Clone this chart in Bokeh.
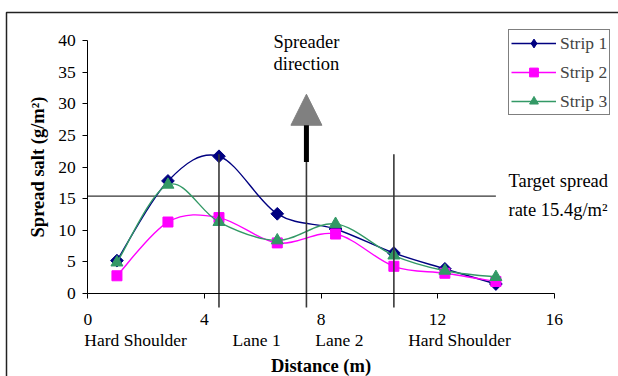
import numpy as np
from bokeh.plotting import figure
from bokeh.models import (Range1d, LinearAxis, FixedTicker, Legend, LegendItem,
                          ColumnDataSource, Arrow, NormalHead, Grid)
from bokeh.core.properties import value
from bokeh.embed import file_html
from bokeh.resources import INLINE

# ---------------- data ----------------
distance = [1.0, 2.75, 4.5, 6.5, 8.5, 10.5, 12.25, 14.0]
strip1 = [5.2, 17.8, 21.7, 12.6, 10.2, 6.4, 3.9, 1.5]
strip2 = [2.8, 11.3, 12.0, 8.0, 9.4, 4.3, 3.2, 1.9]
strip3 = [4.9, 17.2, 11.3, 8.4, 11.0, 6.0, 3.6, 2.6]
series_names = ["Strip 1", "Strip 2", "Strip 3"]
x_ticks = [0, 4, 8, 12, 16]
y_ticks = [0, 5, 10, 15, 20, 25, 30, 35, 40]
zone_labels = ["Hard Shoulder", "Lane 1", "Lane 2", "Hard Shoulder"]
zone_label_x = [1.64, 5.79, 8.63, 12.75]
lane_dividers = [4.5, 7.5, 10.5]
divider_tops = [22.0, 26.5, 22.0]
target_rate = 15.4
target_end = 14.0
arrow_x = 7.5
arrow_stem = (20.8, 31.5)

# ---------------- layout ----------------
W, H = 618, 376
X0_PX, X_SCALE = 87.3, 29.15
Y0_PX, Y_SCALE = 293.0, 6.325

def px_x(px):
    return (px - X0_PX) / X_SCALE

def px_y(py):
    return (Y0_PX - py) / Y_SCALE

FONT_NAME = "Liberation Serif"
FONT = value(FONT_NAME)
colors = ["#000080", "#FF00FF", "#339966"]
plot_markers = ["square", "square", "triangle"]
legend_markers = ["diamond", "square", "triangle"]
angles = [np.pi / 4, 0, 0]
sizes = [9, 10, 12]
legend_sizes = [15, 10, 12]

p = figure(width=W, height=H, output_backend="svg", toolbar_location=None,
           x_range=Range1d(px_x(0), px_x(W)), y_range=Range1d(px_y(H), px_y(0)),
           x_axis_location=None, y_axis_location=None, min_border=0,
           outline_line_color=None, background_fill_color="white",
           border_fill_color="white")
p.center = [r for r in p.center if not isinstance(r, Grid)]

# axes at data zero
xaxis = LinearAxis(fixed_location=0, bounds=(0, 16), ticker=FixedTicker(ticks=x_ticks),
                   major_tick_out=5, major_tick_in=0, minor_tick_out=0, minor_tick_in=0,
                   axis_line_color="black", major_tick_line_color="black",
                   major_label_text_font=FONT_NAME, major_label_text_font_size="17.5px",
                   major_label_text_color="black", major_label_standoff=15,
                   axis_label="Distance (m)", axis_label_text_font=FONT_NAME,
                   axis_label_text_font_size="18.5px", axis_label_text_font_style="bold",
                   axis_label_standoff=28, axis_label_text_color="black")
p.add_layout(xaxis, "below")
yaxis = LinearAxis(fixed_location=0, bounds=(0, 40), ticker=FixedTicker(ticks=y_ticks),
                   major_tick_out=5, major_tick_in=0, minor_tick_out=0, minor_tick_in=0,
                   axis_line_color="black", major_tick_line_color="black",
                   major_label_text_font=FONT_NAME, major_label_text_font_size="17.5px",
                   major_label_text_color="black", major_label_standoff=7,
                   axis_label="Spread salt (g/m²)", axis_label_text_font=FONT_NAME,
                   axis_label_text_font_size="18.5px", axis_label_text_font_style="bold",
                   axis_label_standoff=7, axis_label_text_color="black")
p.add_layout(yaxis, "left")

# outer frame border
p.line(x=[px_x(6), px_x(6), px_x(W + 50)], y=[px_y(H + 50), px_y(12), px_y(12)],
       line_color="#222222", line_width=1.5)

# target line
p.line(x=[0, target_end], y=[target_rate, target_rate], line_color="black", line_width=1)

# smoothed series (Catmull-Rom style Bezier segments, Excel-like smoothing)
def bezier_source(xs, ys):
    x = np.asarray(xs, float)
    y = np.asarray(ys, float)
    n = len(x)
    xp = np.concatenate([[x[0]], x, [x[-1]]])
    yp = np.concatenate([[y[0]], y, [y[-1]]])
    d = dict(x0=[], y0=[], x1=[], y1=[], cx0=[], cy0=[], cx1=[], cy1=[])
    for i in range(n - 1):
        j = i + 1
        d["x0"].append(x[i]); d["y0"].append(y[i])
        d["x1"].append(x[i + 1]); d["y1"].append(y[i + 1])
        d["cx0"].append(x[i] + (xp[j + 1] - xp[j - 1]) / 6)
        d["cy0"].append(y[i] + (yp[j + 1] - yp[j - 1]) / 6)
        d["cx1"].append(x[i + 1] - (xp[j + 2] - xp[j]) / 6)
        d["cy1"].append(y[i + 1] - (yp[j + 2] - yp[j]) / 6)
    return ColumnDataSource(d)

items = []
for name, vals, col, mk, lmk, ang, sz, lsz in zip(series_names, [strip1, strip2, strip3],
                                                  colors, plot_markers, legend_markers,
                                                  angles, sizes, legend_sizes):
    br = p.bezier(x0="x0", y0="y0", x1="x1", y1="y1", cx0="cx0", cy0="cy0",
                  cx1="cx1", cy1="cy1", source=bezier_source(distance, vals),
                  line_color=col, line_width=1.4)
    p.scatter(x=distance, y=vals, marker=mk, angle=ang, size=sz,
              fill_color=col, line_color=col)
    lr = p.scatter(x=distance, y=vals, marker=lmk, size=lsz,
                   fill_color=col, line_color=col, visible=False)
    items.append(LegendItem(label=name, renderers=[br, lr]))

# lane dividers
p.segment(x0=lane_dividers, y0=divider_tops, x1=lane_dividers,
          y1=[px_y(307)] * len(lane_dividers), line_color="#383838", line_width=1.6)

# spreader direction arrow
p.add_layout(Arrow(end=NormalHead(size=31, fill_color="#808080", line_color="#808080"),
                   x_start=arrow_x, y_start=arrow_stem[0], x_end=arrow_x, y_end=arrow_stem[1],
                   line_color="black", line_width=5))

# texts
p.text(x=[arrow_x, arrow_x], y=[px_y(41), px_y(63)], text=["Spreader", "direction"],
       text_align="center", text_baseline="middle", text_font=FONT,
       text_font_size="18.5px", text_color="black")
p.text(x=[px_x(508), px_x(508)], y=[px_y(180), px_y(209)],
       text=["Target spread", "rate 15.4g/m²"], text_align="left",
       text_baseline="middle", text_font=FONT, text_font_size="18.5px", text_color="black")
p.text(x=zone_label_x, y=[px_y(339)] * len(zone_labels), text=zone_labels,
       text_align="center", text_baseline="middle", text_font=FONT,
       text_font_size="17.5px", text_color="black")

legend = Legend(items=items, location=(508, 261), border_line_color="black",
                border_line_width=1, padding=2, spacing=7, margin=0,
                glyph_width=45, glyph_height=22, label_height=22, label_standoff=4,
                label_text_font=FONT_NAME, label_text_font_size="17.5px",
                background_fill_color="white", background_fill_alpha=1)
p.add_layout(legend)

open("out.html", "w").write(file_html(p, INLINE))
